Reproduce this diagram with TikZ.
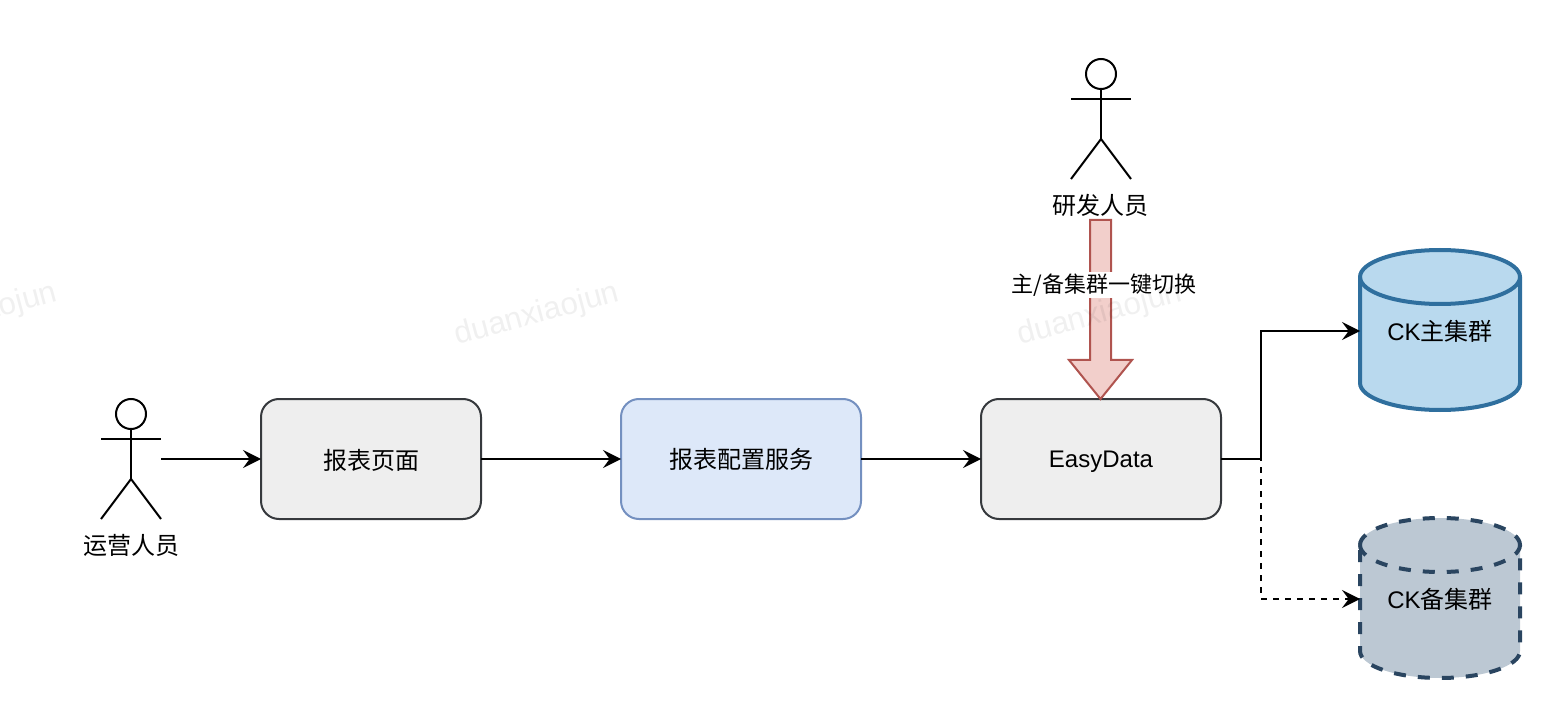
\documentclass[tikz,border=0pt]{standalone}
\usepackage{fontspec}
\setmainfont{Liberation Sans}
\newfontfamily\cjk{Noto Sans CJK SC}
\usetikzlibrary{arrows.meta,shapes.arrows}
\definecolor{boxfill}{HTML}{EEEEEE}
\definecolor{boxline}{HTML}{36393D}
\definecolor{bluefill}{HTML}{DDE8F9}
\definecolor{blueline}{HTML}{7490C0}
\definecolor{redfill}{HTML}{F2CFCB}
\definecolor{redline}{HTML}{B0544F}
\definecolor{cylafill}{HTML}{B9D9EE}
\definecolor{cylaline}{HTML}{2F6F9E}
\definecolor{cylbfill}{HTML}{BCC8D3}
\definecolor{cylbline}{HTML}{2A4560}
\tikzset{
  x=0.75pt,y=-0.75pt,
  every node/.style={font=\fontsize{18}{22}\selectfont,outer sep=0pt,inner sep=0pt,text=black},
  flowbox/.style={draw,line width=1.5pt,rounded corners=13.5pt,minimum height=90pt},
  graybox/.style={flowbox,draw=boxline,fill=boxfill},
  bluebox/.style={flowbox,draw=blueline,fill=bluefill},
  conn/.style={draw=black,line width=1.5pt,-{Stealth[length=13.5pt,width=13.5pt,inset=5pt]}},
  connd/.style={conn,dash pattern=on 4.5pt off 4.5pt},
  limb/.style={draw=black,line width=1.5pt},
  actorbox/.style={minimum width=45pt,minimum height=90pt},
  cylbox/.style={minimum width=120pt,minimum height=120pt},
  cyla/.style={fill=cylafill,draw=cylaline,line width=3pt},
  cylb/.style={fill=cylbfill,draw=cylbline,line width=3pt,dash pattern=on 9pt off 9pt},
  watermark/.style={font=\fontsize{23.5}{28}\selectfont,text=black,text opacity=0.06,rotate=15},
}
\newcommand{\actorfig}[2]{%
  \draw[limb] (#1,#2) circle[radius=11.25pt];
  \draw[limb] (#1,#2+15) -- (#1,#2+65);
  \draw[limb] (#1-30,#2+25) -- (#1+30,#2+25);
  \draw[limb] (#1-30,#2+105) -- (#1,#2+65) -- (#1+30,#2+105);
}
\newcommand{\cylfig}[3]{%
  \path[#3,draw=none] (#1,#2+27) arc[start angle=180,end angle=0,x radius=60pt,y radius=20.25pt]
     -- (#1+160,#2+133) arc[start angle=0,end angle=-180,x radius=60pt,y radius=20.25pt] -- cycle;
  \path[#3,fill=none] (#1,#2+27) arc[start angle=180,end angle=0,x radius=60pt,y radius=20.25pt]
     -- (#1+160,#2+133) arc[start angle=0,end angle=-180,x radius=60pt,y radius=20.25pt] -- cycle;
  \path[#3,fill=none] (#1,#2+27) arc[start angle=180,end angle=360,x radius=60pt,y radius=20.25pt];
}
\begin{document}
\begin{tikzpicture}
\useasboundingbox (0,0) rectangle (1552,716);
% actors
\actorfig{131}{414}
\actorfig{1101}{74}
\node[actorbox] (ops) at (131,459) {};
\node (opslabel) at (131,545) {\cjk 运营人员};
\node[actorbox] (dev) at (1101,119) {};
\node (devlabel) at (1100.5,205) {\cjk 研发人员};
% boxes
\node[graybox,minimum width=165pt,text depth=0pt] (page) at (371,459) {\cjk 报表页面};
\node[bluebox,minimum width=180pt] (svc) at (741,459) {\cjk 报表配置服务};
\node[graybox,minimum width=180pt,text height=13pt,text depth=0pt] (easy) at (1101,459) {EasyData};
% cylinders
\cylfig{1360}{250}{cyla}
\cylfig{1360}{518}{cylb}
\node[cylbox] (main) at (1440,331) {CK{\cjk 主集群}};
\node[cylbox] (backup) at (1440,599) {CK{\cjk 备集群}};
% big arrow
\draw[fill=redfill,draw=redline,line width=1.5pt,line join=miter]
  (1090,220) -- (1111,220) -- (1111,360) -- (1132,360) -- (1100.5,399) -- (1069,360) -- (1090,360) -- cycle;
\node[fill=white,inner xsep=0pt,inner ysep=1pt,font=\fontsize{16.5}{20}\selectfont] (swlabel) at (1104,285) {\cjk 主/备集群一键切换};
% connectors
\draw[conn] (ops.east |- page.west) -- (page.west);
\draw[conn] (page.east) -- (svc.west);
\draw[conn] (svc.east) -- (easy.west);
\coordinate (split) at (1261,459);
\draw[connd] (easy.east) -- (split) |- (backup.west);
\draw[conn] (easy.east) -- (split) |- (main.west);
% watermarks
\node[watermark] (wm1) at (-25,315) {duanxiaojun};
\node[watermark] (wm2) at (537,315) {duanxiaojun};
\node[watermark] (wm3) at (1100,315) {duanxiaojun};
\end{tikzpicture}
\end{document}
